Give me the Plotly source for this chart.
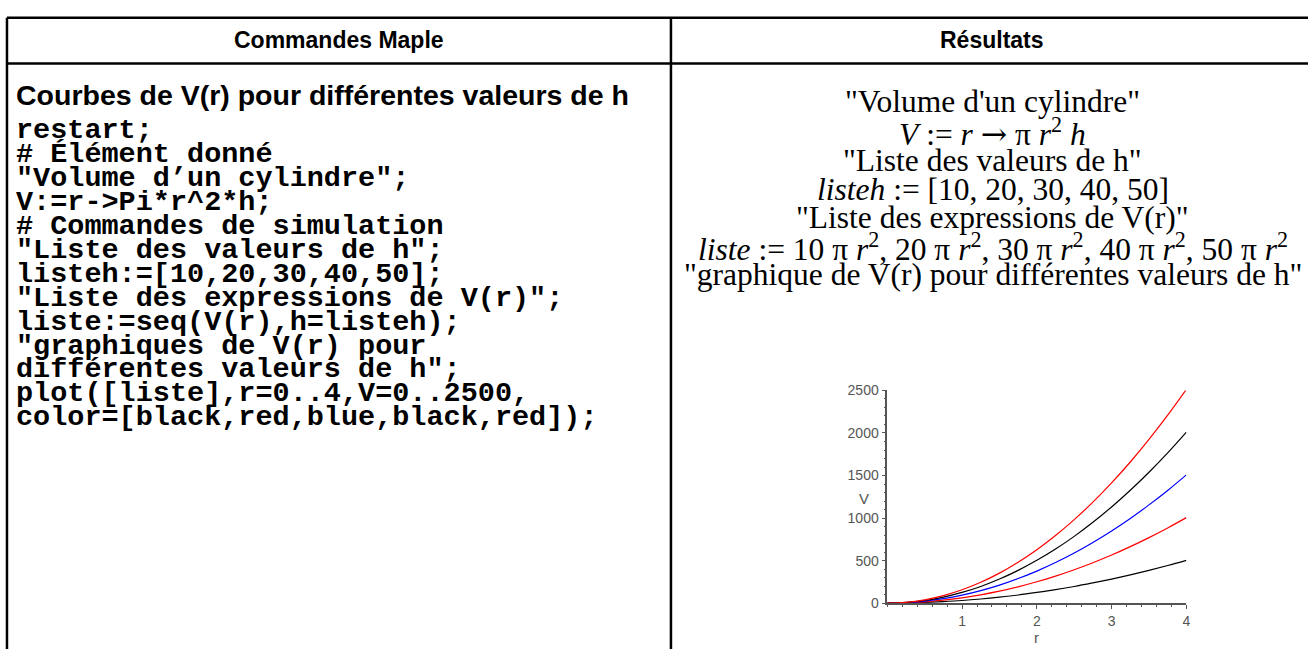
import plotly.graph_objects as go

W, H = 1312, 657

def px(x):
    return x / W

def py(y):
    return 1 - y / H

# ---------------- data ----------------
r_values = [0, 0.25, 0.5, 0.75, 1, 1.25, 1.5, 1.75, 2, 2.25, 2.5, 2.75, 3, 3.25, 3.5, 3.75, 4]
V_h10 = [0, 2, 8, 18, 31, 49, 71, 96, 126, 159, 196, 238, 283, 332, 385, 442, 503]
V_h20 = [0, 4, 16, 35, 63, 98, 141, 192, 251, 318, 393, 475, 565, 664, 770, 884, 1005]
V_h30 = [0, 6, 24, 53, 94, 147, 212, 289, 377, 477, 589, 713, 848, 995, 1155, 1325, 1508]
V_h40 = [0, 8, 31, 71, 126, 196, 283, 385, 503, 636, 785, 950, 1131, 1327, 1539, 1767, 2011]
V_h50 = [0, 10, 39, 88, 157, 245, 353, 481, 628, 795, 982, 1188, 1414, 1659, 1924, 2209, 2513]
series_values = [V_h10, V_h20, V_h30, V_h40, V_h50]
series_names = ["h=10", "h=20", "h=30", "h=40", "h=50"]
series_colors = ["#000000", "#ff0000", "#0000ff", "#000000", "#ff0000"]

x_ticks = [1, 2, 3, 4]
y_ticks = [0, 500, 1000, 1500, 2000, 2500]

header_left = "Commandes Maple"
header_right = "Résultats"
section_title = "Courbes de V(r) pour différentes valeurs de h"
code_lines = [
    "restart;",
    "# Élément donné",
    "\"Volume d’un cylindre\";",
    "V:=r-&gt;Pi*r^2*h;",
    "# Commandes de simulation",
    "\"Liste des valeurs de h\";",
    "listeh:=[10,20,30,40,50];",
    "\"Liste des expressions de V(r)\";",
    "liste:=seq(V(r),h=listeh);",
    "\"graphiques de V(r) pour",
    "différentes valeurs de h\";",
    "plot([liste],r=0..4,V=0..2500,",
    "color=[black,red,blue,black,red]);",
]
ARROW = "<span style=\"font-family:DejaVu Serif\">→</span>"
result_lines = [
    "\"Volume d'un cylindre\"",
    "<i>V</i> := <i>r</i> " + ARROW + " π <i>r</i><sup>2</sup> <i>h</i>",
    "\"Liste des valeurs de h\"",
    "<i>listeh</i> := [10, 20, 30, 40, 50]",
    "\"Liste des expressions de V(r)\"",
    "<i>liste</i> := 10 π <i>r</i><sup>2</sup>, 20 π <i>r</i><sup>2</sup>, 30 π <i>r</i><sup>2</sup>, 40 π <i>r</i><sup>2</sup>, 50 π <i>r</i><sup>2</sup>",
    "\"graphique de V(r) pour différentes valeurs de h\"",
]

fig = go.Figure()

for vals, name, col in zip(series_values, series_names, series_colors):
    fig.add_trace(go.Scatter(
        x=r_values, y=vals, mode="lines", name=name,
        line=dict(color=col, width=1.2, shape="spline"),
        showlegend=False, hoverinfo="skip",
    ))

tick_font = dict(family="Liberation Sans", size=14, color="#555555")

fig.update_layout(
    width=W, height=H,
    margin=dict(l=0, r=0, t=0, b=0),
    paper_bgcolor="white", plot_bgcolor="white",
    xaxis=dict(
        domain=[px(890), px(1190)], range=[0, 4],
        tickvals=x_ticks, ticktext=[str(v) for v in x_ticks],
        ticks="outside", ticklen=4, tickcolor="#555555", tickwidth=1,
        showline=True, linecolor="#555555", linewidth=1.5,
        showgrid=False, zeroline=False, tickfont=tick_font,
        minor=dict(ticks="outside", ticklen=2, dtick=0.2, tickcolor="#555555", showgrid=False),
        anchor="y", fixedrange=True,
    ),
    yaxis=dict(
        domain=[py(610), py(392)], range=[0, 2500],
        tickvals=y_ticks, ticktext=[str(v) for v in y_ticks],
        ticks="outside", ticklen=4, tickcolor="#555555", tickwidth=1,
        showline=True, linecolor="#555555", linewidth=1.5,
        showgrid=False, zeroline=False, tickfont=tick_font,
        minor=dict(ticks="outside", ticklen=2, dtick=100, tickcolor="#555555", showgrid=False),
        anchor="x", fixedrange=True,
    ),
)

# table borders
line_style = dict(color="black", width=2.5)
shapes = [
    dict(type="line", xref="paper", yref="paper", x0=px(7), x1=px(1312), y0=py(10), y1=py(10), line=line_style),
    dict(type="line", xref="paper", yref="paper", x0=px(7), x1=px(1312), y0=py(57), y1=py(57), line=line_style),
    dict(type="line", xref="paper", yref="paper", x0=px(7), x1=px(7), y0=py(10), y1=py(657), line=line_style),
    dict(type="line", xref="paper", yref="paper", x0=px(673), x1=px(673), y0=py(10), y1=py(657), line=line_style),
]
fig.update_layout(shapes=shapes)

ann = []
def add_text(text, x, y, size, family, xanchor="center", color="black"):
    ann.append(dict(text=text, x=px(x), y=py(y), xref="paper", yref="paper",
                    xanchor=xanchor, yanchor="middle", showarrow=False,
                    font=dict(family=family, size=size, color=color)))

add_text("<b>" + header_left + "</b>", 340, 33, 23, "Liberation Sans")
add_text("<b>" + header_right + "</b>", 995, 33, 23, "Liberation Sans")
add_text("<b>" + section_title + "</b>", 14, 89, 28.5, "Liberation Sans", xanchor="left")

y0, dy = 126, 24.5
for i, line in enumerate(code_lines):
    add_text("<b>" + line + "</b>", 14, y0 + i * dy, 28.5, "Liberation Mono", xanchor="left")

result_y = [96, 127, 156, 186, 215, 245, 273]
for t, yy in zip(result_lines, result_y):
    add_text(t, 996, yy, 31.5, "Liberation Serif")

# axis titles of the small plot
add_text("V", 867, 503, 15, "Liberation Sans", color="#555555")
add_text("r", 1040, 645, 15, "Liberation Sans", color="#555555")

fig.update_layout(annotations=ann)

fig.write_html(
    "out.html",
    config={"displayModeBar": False},
    post_script="document.body.style.margin='0';document.body.style.overflow='hidden';",
)
